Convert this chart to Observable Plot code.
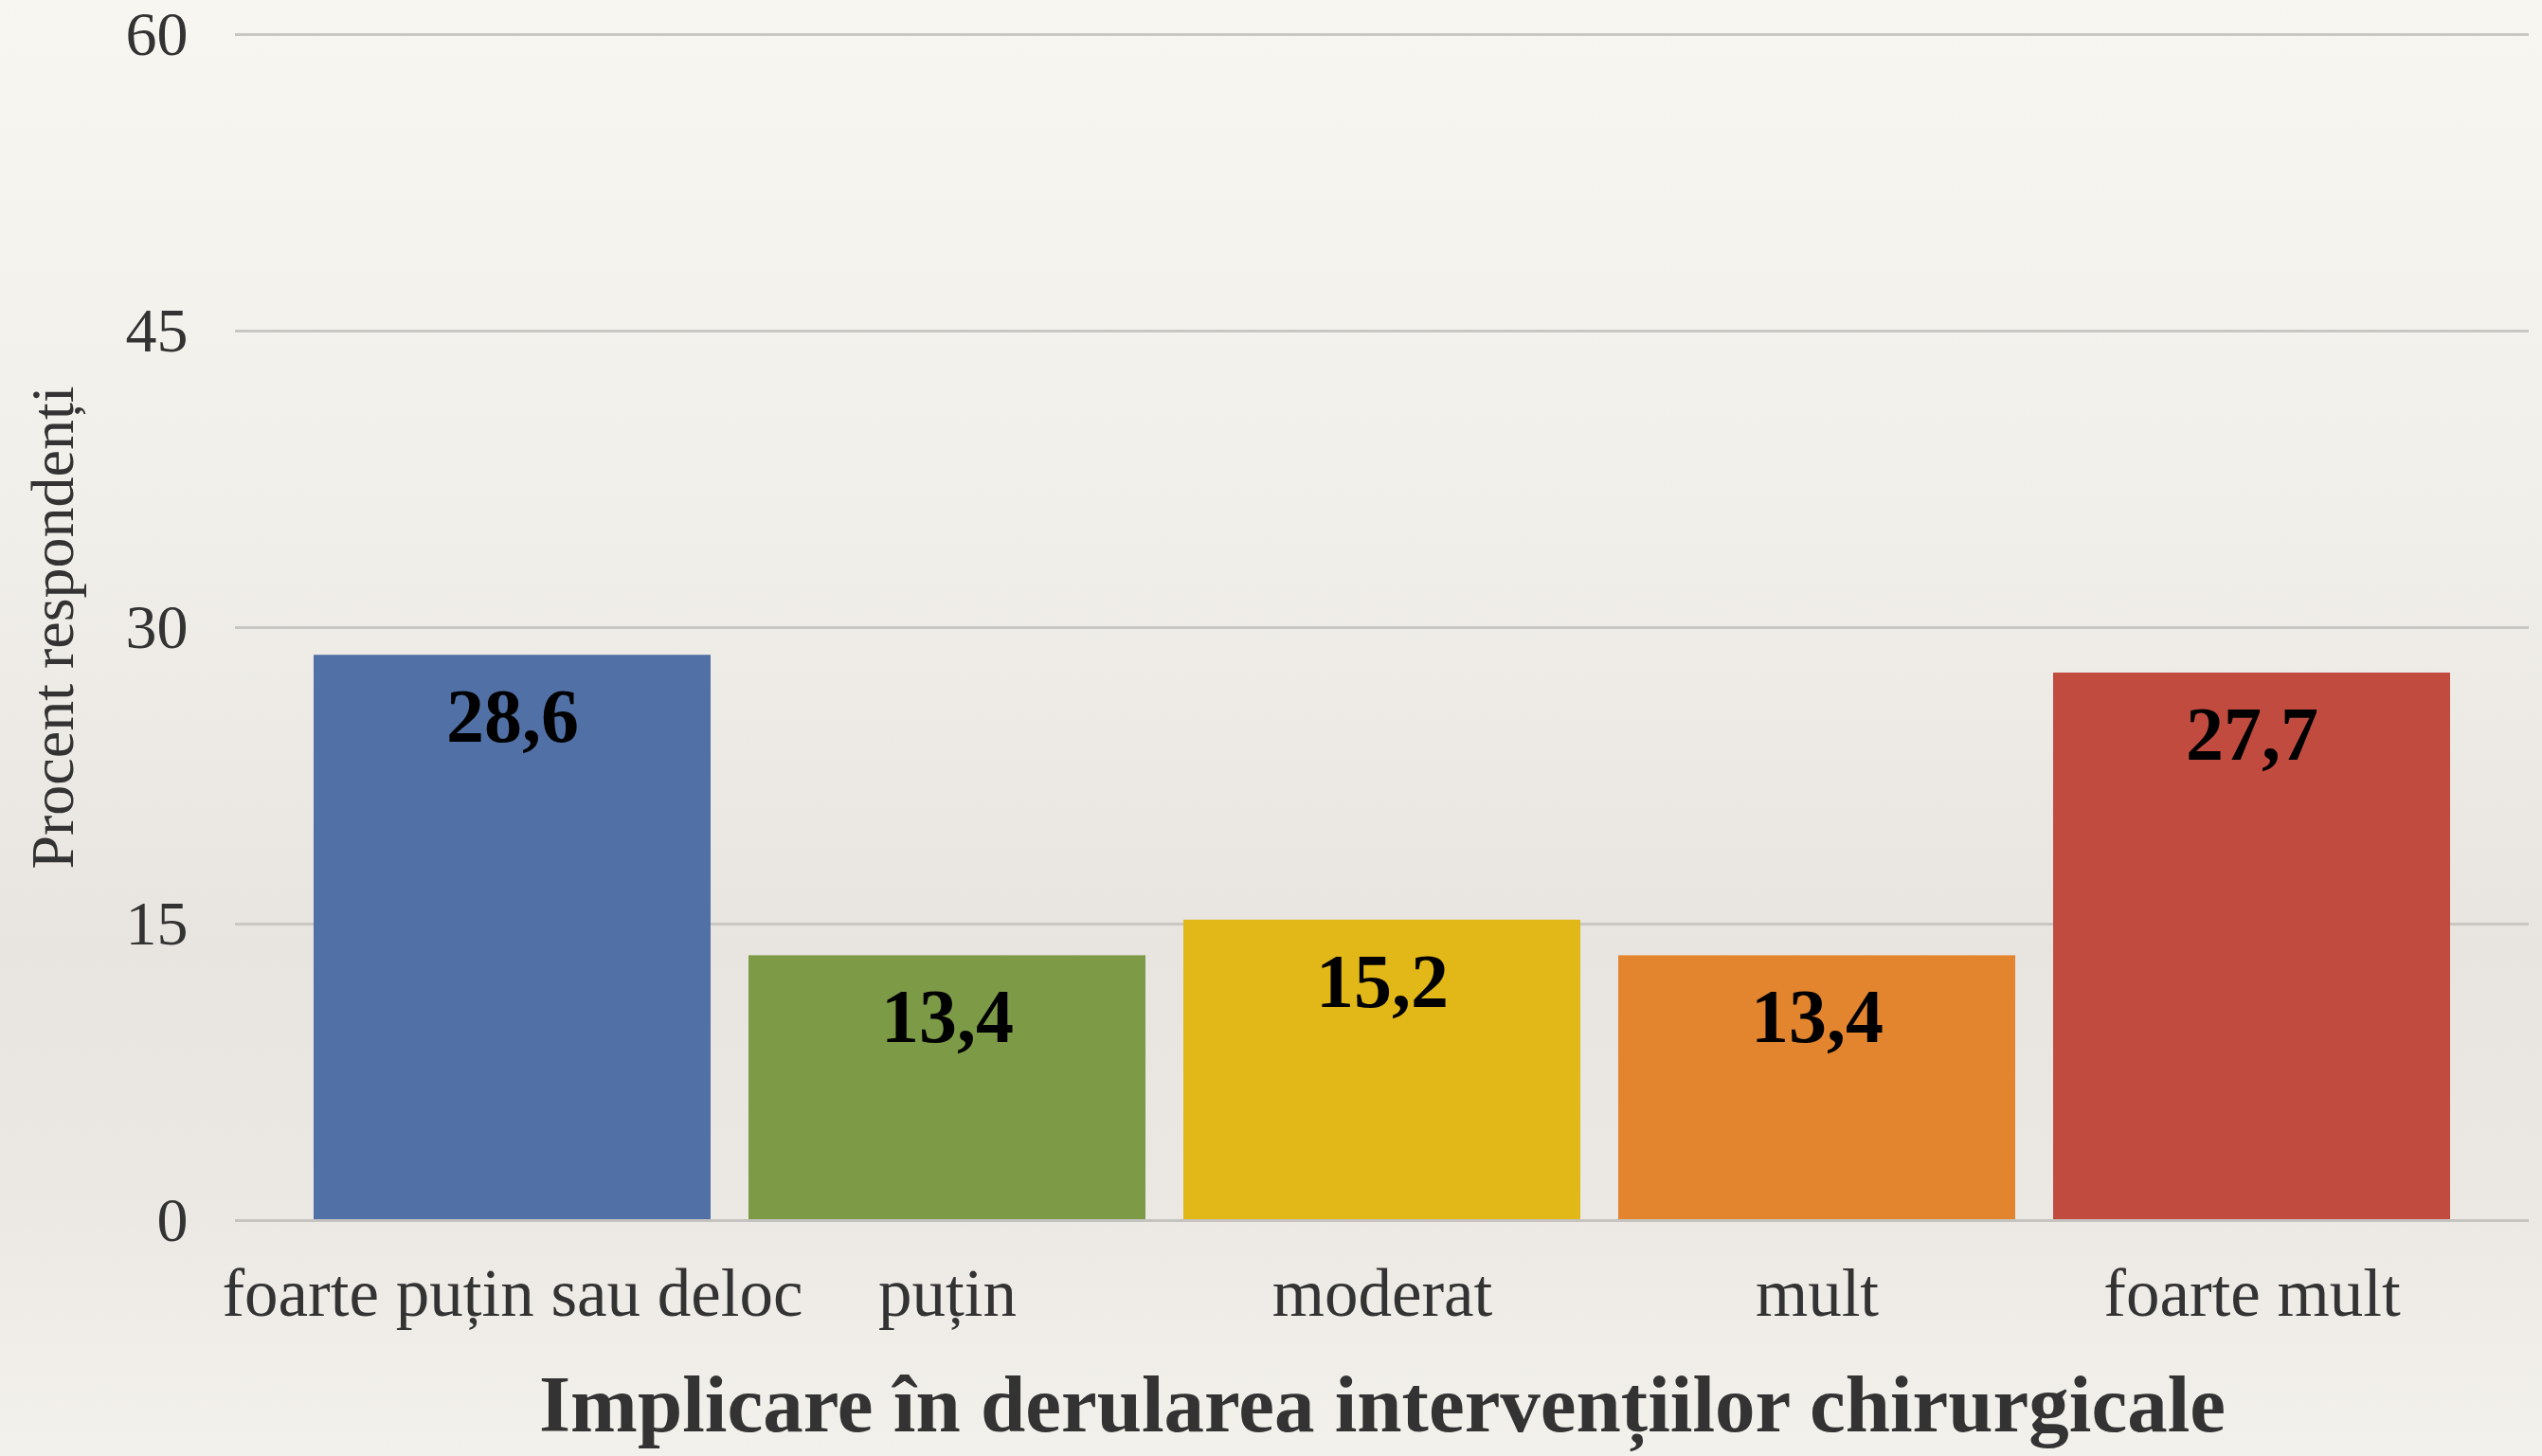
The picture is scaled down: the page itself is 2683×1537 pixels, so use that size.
<!DOCTYPE html>
<html>
<head>
<meta charset="utf-8">
<script src="https://cdn.jsdelivr.net/npm/d3@7"></script>
<script src="https://cdn.jsdelivr.net/npm/@observablehq/plot@0.6"></script>
<style>
  html, body { margin: 0; padding: 0; }
  body {
    width: 2683px; height: 1537px; overflow: hidden;
    background: linear-gradient(to bottom, #f8f6f1 0%, #f1efea 35%, #e8e5e0 65%, #ebe8e3 82%, #f3f1ec 100%);
    font-family: "Liberation Serif", "DejaVu Serif", serif;
  }
</style>
</head>
<body>
<div id="chart"></div>
<script>
const categories = ["foarte puțin sau deloc", "puțin", "moderat", "mult", "foarte mult"];
const values = [28.6, 13.4, 15.2, 13.4, 27.7];
const colors = ["#5170a5", "#7d9a47", "#e2b818", "#e3852f", "#c24b40"];
const yTicks = [0, 15, 30, 45, 60];
const xTitle = "Implicare în derularea intervențiilor chirurgicale";
const yTitle = "Procent respondenți";

const data = categories.map((c, i) => ({category: c, value: values[i], color: colors[i]}));
const fmt = v => v.toFixed(1).replace(".", ",");

const chart = Plot.plot({
  width: 2683,
  height: 1537,
  marginLeft: 248,
  marginRight: 14,
  marginTop: 36,
  marginBottom: 249,
  style: {background: "transparent", fontFamily: "'Liberation Serif', serif", color: "#333"},
  x: {domain: categories, paddingInner: 0.087, paddingOuter: 0.18, label: null},
  y: {domain: [0, 60], ticks: yTicks, label: null},
  marks: [
    Plot.ruleY(yTicks.filter(t => t > 0), {stroke: "#c9c7c3", strokeWidth: 3}),
    Plot.barY(data, {x: "category", y: "value", fill: "color"}),
    Plot.ruleY([0], {stroke: "#c4c3c0", strokeWidth: 3}),
    Plot.axisY({ticks: yTicks, tickSize: 0, tickPadding: 50, fontSize: 66, fill: "#333", label: null}),
    Plot.axisX({tickSize: 0, tickPadding: 50, fontSize: 71, fill: "#333", label: null}),
    Plot.text(data, {x: "category", y: "value", text: d => fmt(d.value), dy: 66, fontSize: 80, fontWeight: "bold", fill: "#000"}),
    Plot.text([xTitle], {frameAnchor: "bottom", dy: 222, fontSize: 85, fontWeight: "bold", fill: "#333"}),
    Plot.text([yTitle], {frameAnchor: "left", textAnchor: "middle", dx: -192, rotate: -90, fontSize: 64, fill: "#333"})
  ]
});
document.getElementById("chart").appendChild(chart);
</script>
</body>
</html>
